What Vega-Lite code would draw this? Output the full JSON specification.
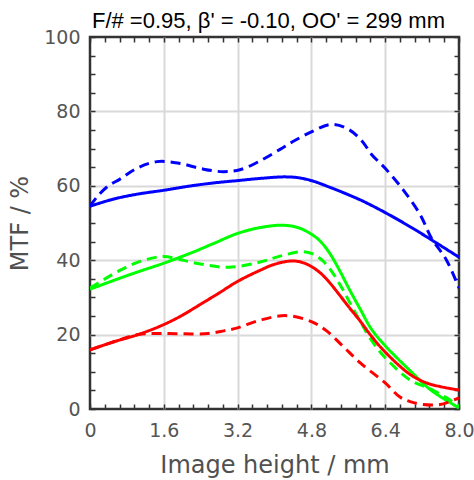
{
  "$schema": "https://vega.github.io/schema/vega-lite/v6.json",
  "width": 369,
  "height": 372,
  "autosize": "none",
  "padding": {"left": 90, "top": 37, "right": 15, "bottom": 71},
  "background": "white",
  "config": {
    "view": {"stroke": "#333333", "strokeWidth": 2.5},
    "font": "DejaVu Sans"
  },
  "title": {
    "text": "F/# =0.95, β' = -0.10, OO' = 299 mm",
    "font": "Liberation Sans",
    "fontSize": 22,
    "fontWeight": "normal",
    "color": "black",
    "anchor": "middle",
    "frame": "group",
    "baseline": "alphabetic",
    "offset": 8,
    "dx": -6,
    "dy": 30
  },
  "data": {
    "values": [
      {"x": 0, "mtf": 54.5, "c": "blue", "s": "solid"},
      {"x": 0.5, "mtf": 56.4, "c": "blue", "s": "solid"},
      {"x": 1.0, "mtf": 57.7, "c": "blue", "s": "solid"},
      {"x": 1.6, "mtf": 58.8, "c": "blue", "s": "solid"},
      {"x": 2.2, "mtf": 60.0, "c": "blue", "s": "solid"},
      {"x": 2.7, "mtf": 60.8, "c": "blue", "s": "solid"},
      {"x": 3.2, "mtf": 61.4, "c": "blue", "s": "solid"},
      {"x": 3.7, "mtf": 62.0, "c": "blue", "s": "solid"},
      {"x": 4.2, "mtf": 62.4, "c": "blue", "s": "solid"},
      {"x": 4.5, "mtf": 62.2, "c": "blue", "s": "solid"},
      {"x": 4.8, "mtf": 61.4, "c": "blue", "s": "solid"},
      {"x": 5.2, "mtf": 59.6, "c": "blue", "s": "solid"},
      {"x": 5.6, "mtf": 57.6, "c": "blue", "s": "solid"},
      {"x": 5.93, "mtf": 55.8, "c": "blue", "s": "solid"},
      {"x": 6.4, "mtf": 52.8, "c": "blue", "s": "solid"},
      {"x": 6.94, "mtf": 49.0, "c": "blue", "s": "solid"},
      {"x": 7.4, "mtf": 45.5, "c": "blue", "s": "solid"},
      {"x": 8.0, "mtf": 40.8, "c": "blue", "s": "solid"},

      {"x": 0, "mtf": 54.5, "c": "blue", "s": "dashed"},
      {"x": 0.15, "mtf": 57.0, "c": "blue", "s": "dashed"},
      {"x": 0.4, "mtf": 60.0, "c": "blue", "s": "dashed"},
      {"x": 0.65, "mtf": 61.8, "c": "blue", "s": "dashed"},
      {"x": 1.0, "mtf": 64.6, "c": "blue", "s": "dashed"},
      {"x": 1.45, "mtf": 66.5, "c": "blue", "s": "dashed"},
      {"x": 1.95, "mtf": 66.0, "c": "blue", "s": "dashed"},
      {"x": 2.45, "mtf": 64.5, "c": "blue", "s": "dashed"},
      {"x": 2.88, "mtf": 63.8, "c": "blue", "s": "dashed"},
      {"x": 3.25, "mtf": 64.3, "c": "blue", "s": "dashed"},
      {"x": 3.7, "mtf": 66.8, "c": "blue", "s": "dashed"},
      {"x": 4.12, "mtf": 69.8, "c": "blue", "s": "dashed"},
      {"x": 4.4, "mtf": 71.9, "c": "blue", "s": "dashed"},
      {"x": 4.8, "mtf": 74.5, "c": "blue", "s": "dashed"},
      {"x": 5.24, "mtf": 76.5, "c": "blue", "s": "dashed"},
      {"x": 5.6, "mtf": 75.2, "c": "blue", "s": "dashed"},
      {"x": 5.9, "mtf": 72.0, "c": "blue", "s": "dashed"},
      {"x": 6.1, "mtf": 68.5, "c": "blue", "s": "dashed"},
      {"x": 6.4, "mtf": 64.7, "c": "blue", "s": "dashed"},
      {"x": 6.79, "mtf": 58.9, "c": "blue", "s": "dashed"},
      {"x": 7.16, "mtf": 52.2, "c": "blue", "s": "dashed"},
      {"x": 7.4, "mtf": 46.0, "c": "blue", "s": "dashed"},
      {"x": 7.73, "mtf": 40.0, "c": "blue", "s": "dashed"},
      {"x": 8.0, "mtf": 32.5, "c": "blue", "s": "dashed"},

      {"x": 0, "mtf": 32.2, "c": "green", "s": "solid"},
      {"x": 0.5, "mtf": 34.5, "c": "green", "s": "solid"},
      {"x": 1.0, "mtf": 36.7, "c": "green", "s": "solid"},
      {"x": 1.6, "mtf": 39.2, "c": "green", "s": "solid"},
      {"x": 2.2, "mtf": 42.0, "c": "green", "s": "solid"},
      {"x": 2.7, "mtf": 44.6, "c": "green", "s": "solid"},
      {"x": 3.2, "mtf": 47.2, "c": "green", "s": "solid"},
      {"x": 3.7, "mtf": 48.8, "c": "green", "s": "solid"},
      {"x": 4.16, "mtf": 49.4, "c": "green", "s": "solid"},
      {"x": 4.5, "mtf": 48.8, "c": "green", "s": "solid"},
      {"x": 4.8, "mtf": 47.0, "c": "green", "s": "solid"},
      {"x": 5.0, "mtf": 45.0, "c": "green", "s": "solid"},
      {"x": 5.2, "mtf": 41.8, "c": "green", "s": "solid"},
      {"x": 5.4, "mtf": 37.5, "c": "green", "s": "solid"},
      {"x": 5.6, "mtf": 32.7, "c": "green", "s": "solid"},
      {"x": 5.86, "mtf": 26.8, "c": "green", "s": "solid"},
      {"x": 6.1, "mtf": 21.5, "c": "green", "s": "solid"},
      {"x": 6.4, "mtf": 17.0, "c": "green", "s": "solid"},
      {"x": 6.94, "mtf": 10.3, "c": "green", "s": "solid"},
      {"x": 7.4, "mtf": 5.0, "c": "green", "s": "solid"},
      {"x": 8.0, "mtf": 0.3, "c": "green", "s": "solid"},

      {"x": 0, "mtf": 32.5, "c": "green", "s": "dashed"},
      {"x": 0.3, "mtf": 34.8, "c": "green", "s": "dashed"},
      {"x": 0.61, "mtf": 37.0, "c": "green", "s": "dashed"},
      {"x": 1.0, "mtf": 39.3, "c": "green", "s": "dashed"},
      {"x": 1.57, "mtf": 41.0, "c": "green", "s": "dashed"},
      {"x": 1.88, "mtf": 40.4, "c": "green", "s": "dashed"},
      {"x": 2.3, "mtf": 39.2, "c": "green", "s": "dashed"},
      {"x": 3.0, "mtf": 38.1, "c": "green", "s": "dashed"},
      {"x": 3.69, "mtf": 39.5, "c": "green", "s": "dashed"},
      {"x": 4.12, "mtf": 41.1, "c": "green", "s": "dashed"},
      {"x": 4.62, "mtf": 42.3, "c": "green", "s": "dashed"},
      {"x": 4.85, "mtf": 41.6, "c": "green", "s": "dashed"},
      {"x": 5.05, "mtf": 39.8, "c": "green", "s": "dashed"},
      {"x": 5.25, "mtf": 36.8, "c": "green", "s": "dashed"},
      {"x": 5.45, "mtf": 32.8, "c": "green", "s": "dashed"},
      {"x": 5.65, "mtf": 28.2, "c": "green", "s": "dashed"},
      {"x": 5.86, "mtf": 23.5, "c": "green", "s": "dashed"},
      {"x": 6.1, "mtf": 18.5, "c": "green", "s": "dashed"},
      {"x": 6.4, "mtf": 13.8, "c": "green", "s": "dashed"},
      {"x": 6.94, "mtf": 7.8, "c": "green", "s": "dashed"},
      {"x": 7.4, "mtf": 5.3, "c": "green", "s": "dashed"},
      {"x": 7.73, "mtf": 3.0, "c": "green", "s": "dashed"},
      {"x": 8.0, "mtf": 0.8, "c": "green", "s": "dashed"},

      {"x": 0, "mtf": 15.9, "c": "red", "s": "solid"},
      {"x": 0.5, "mtf": 18.0, "c": "red", "s": "solid"},
      {"x": 1.04, "mtf": 20.0, "c": "red", "s": "solid"},
      {"x": 1.6, "mtf": 22.7, "c": "red", "s": "solid"},
      {"x": 2.0, "mtf": 25.2, "c": "red", "s": "solid"},
      {"x": 2.39, "mtf": 28.1, "c": "red", "s": "solid"},
      {"x": 2.8, "mtf": 31.2, "c": "red", "s": "solid"},
      {"x": 3.2, "mtf": 34.3, "c": "red", "s": "solid"},
      {"x": 3.69, "mtf": 37.3, "c": "red", "s": "solid"},
      {"x": 4.0, "mtf": 38.9, "c": "red", "s": "solid"},
      {"x": 4.37, "mtf": 39.8, "c": "red", "s": "solid"},
      {"x": 4.6, "mtf": 39.4, "c": "red", "s": "solid"},
      {"x": 4.8, "mtf": 38.3, "c": "red", "s": "solid"},
      {"x": 5.0, "mtf": 36.5, "c": "red", "s": "solid"},
      {"x": 5.2, "mtf": 33.9, "c": "red", "s": "solid"},
      {"x": 5.4, "mtf": 30.8, "c": "red", "s": "solid"},
      {"x": 5.6, "mtf": 27.6, "c": "red", "s": "solid"},
      {"x": 5.86, "mtf": 23.6, "c": "red", "s": "solid"},
      {"x": 6.1, "mtf": 19.6, "c": "red", "s": "solid"},
      {"x": 6.4, "mtf": 15.3, "c": "red", "s": "solid"},
      {"x": 6.94, "mtf": 9.3, "c": "red", "s": "solid"},
      {"x": 7.3, "mtf": 7.0, "c": "red", "s": "solid"},
      {"x": 7.6, "mtf": 6.0, "c": "red", "s": "solid"},
      {"x": 8.0, "mtf": 5.1, "c": "red", "s": "solid"},

      {"x": 0, "mtf": 15.9, "c": "red", "s": "dashed"},
      {"x": 0.5, "mtf": 18.0, "c": "red", "s": "dashed"},
      {"x": 1.04, "mtf": 20.0, "c": "red", "s": "dashed"},
      {"x": 1.5, "mtf": 20.3, "c": "red", "s": "dashed"},
      {"x": 2.0, "mtf": 20.2, "c": "red", "s": "dashed"},
      {"x": 2.56, "mtf": 20.3, "c": "red", "s": "dashed"},
      {"x": 2.9, "mtf": 21.0, "c": "red", "s": "dashed"},
      {"x": 3.2, "mtf": 21.8, "c": "red", "s": "dashed"},
      {"x": 3.69, "mtf": 23.9, "c": "red", "s": "dashed"},
      {"x": 4.26, "mtf": 25.1, "c": "red", "s": "dashed"},
      {"x": 4.8, "mtf": 23.5, "c": "red", "s": "dashed"},
      {"x": 5.13, "mtf": 21.0, "c": "red", "s": "dashed"},
      {"x": 5.49, "mtf": 16.8, "c": "red", "s": "dashed"},
      {"x": 5.86, "mtf": 12.4, "c": "red", "s": "dashed"},
      {"x": 6.4, "mtf": 7.0, "c": "red", "s": "dashed"},
      {"x": 6.72, "mtf": 3.2, "c": "red", "s": "dashed"},
      {"x": 6.94, "mtf": 2.0, "c": "red", "s": "dashed"},
      {"x": 7.22, "mtf": 1.2, "c": "red", "s": "dashed"},
      {"x": 7.59, "mtf": 1.2, "c": "red", "s": "dashed"},
      {"x": 7.8, "mtf": 2.0, "c": "red", "s": "dashed"},
      {"x": 8.0, "mtf": 3.0, "c": "red", "s": "dashed"}
    ]
  },
  "resolve": {"axis": {"x": "independent", "y": "independent"}},
  "layer": [
    {
      "mark": {"type": "line", "opacity": 0},
      "encoding": {
        "x": {
          "field": "x", "type": "quantitative",
          "scale": {"domain": [0, 8], "nice": false, "zero": false},
          "axis": {
            "orient": "top", "title": null, "labels": false, "domain": false, "grid": false,
            "values": [0,0.32,0.64,0.96,1.28,1.6,1.92,2.24,2.56,2.88,3.2,3.52,3.84,4.16,4.48,4.8,5.12,5.44,5.76,6.08,6.4,6.72,7.04,7.36,7.68,8],
            "tickSize": -5, "tickWidth": 1.5, "tickColor": "#333333"
          }
        },
        "y": {
          "field": "mtf", "type": "quantitative",
          "scale": {"domain": [0, 100], "nice": false},
          "axis": {
            "orient": "right", "title": null, "labels": false, "domain": false, "grid": false,
            "values": [0,5,10,15,20,25,30,35,40,45,50,55,60,65,70,75,80,85,90,95,100],
            "tickSize": -5, "tickWidth": 1.5, "tickColor": "#333333"
          }
        },
        "detail": {"field": "c"}
      }
    },
    {
      "mark": {"type": "line", "strokeWidth": 3, "interpolate": "catmull-rom", "clip": true},
      "encoding": {
        "x": {
          "field": "x", "type": "quantitative",
          "scale": {"domain": [0, 8], "nice": false, "zero": false},
          "axis": {
            "orient": "bottom",
            "title": "Image height / mm",
            "titleFont": "DejaVu Sans", "titleFontSize": 24, "titleFontWeight": "normal", "titleColor": "#505050",
            "titlePadding": 13,
            "values": [0,0.32,0.64,0.96,1.28,1.6,1.92,2.24,2.56,2.88,3.2,3.52,3.84,4.16,4.48,4.8,5.12,5.44,5.76,6.08,6.4,6.72,7.04,7.36,7.68,8],
            "labelExpr": "indexof([0,1.6,3.2,4.8,6.4,8], datum.value) >= 0 ? (datum.value == 0 ? '0' : format(datum.value, '.1f')) : ''",
            "labelFont": "DejaVu Sans", "labelFontSize": 19, "labelColor": "#555555",
            "labelOverlap": false, "labelFlush": false, "labelPadding": 17,
            "domain": false,
            "tickSize": -5, "tickWidth": 1.5, "tickColor": "#333333",
            "grid": true, "gridColor": "#d9d9d9", "gridWidth": 2,
            "gridOpacity": {"condition": {"test": "indexof([1.6,3.2,4.8,6.4], datum.value) >= 0", "value": 1}, "value": 0}
          }
        },
        "y": {
          "field": "mtf", "type": "quantitative",
          "scale": {"domain": [0, 100], "nice": false},
          "axis": {
            "orient": "left",
            "title": "MTF / %",
            "titleFont": "DejaVu Sans", "titleFontSize": 24, "titleFontWeight": "normal", "titleColor": "#505050",
            "titlePadding": 11,
            "values": [0,5,10,15,20,25,30,35,40,45,50,55,60,65,70,75,80,85,90,95,100],
            "labelExpr": "datum.value % 20 == 0 ? format(datum.value, 'd') : ''",
            "labelFont": "DejaVu Sans", "labelFontSize": 19, "labelColor": "#555555",
            "labelOverlap": false, "labelFlush": false, "labelPadding": 15,
            "domain": false,
            "tickSize": -5, "tickWidth": 1.5, "tickColor": "#333333",
            "grid": true, "gridColor": "#d9d9d9", "gridWidth": 2,
            "gridOpacity": {"condition": {"test": "datum.value % 20 == 0 && datum.value > 0 && datum.value < 100", "value": 1}, "value": 0}
          }
        },
        "color": {
          "field": "c", "type": "nominal",
          "scale": {"domain": ["blue", "green", "red"], "range": ["#0000ff", "#00ff00", "#ff0000"]},
          "legend": null
        },
        "strokeDash": {
          "field": "s", "type": "nominal",
          "scale": {"domain": ["solid", "dashed"], "range": [[1, 0], [10, 6]]},
          "legend": null
        }
      }
    }
  ]
}
